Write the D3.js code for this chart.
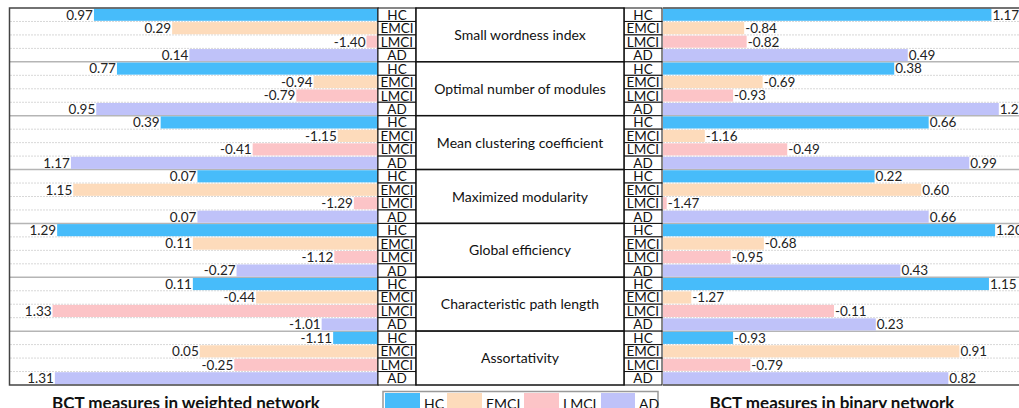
<!DOCTYPE html>
<html><head><meta charset="utf-8">
<script src="https://cdn.jsdelivr.net/npm/d3@7"></script>
<style>body{margin:0;background:#fff}svg{display:block;font-family:Lato,"Open Sans",sans-serif}</style>
</head><body><svg id="c" width="1019" height="408"></svg>
<script>
const measures = ["Small wordness index","Optimal number of modules","Mean clustering coefficient","Maximized modularity","Global efficiency","Characteristic path length","Assortativity"];
const groups = ["HC","EMCI","LMCI","AD"];
const colors = ["#47bcfa","#fddbbb","#fcc4c7","#bfc2f9"];
// weighted network values (per measure: HC, EMCI, LMCI, AD)
const weightedHC   = [0.97, 0.77, 0.39, 0.07, 1.29, 0.11, -1.11];
const weightedEMCI = [0.29, -0.94, -1.15, 1.15, 0.11, -0.44, 0.05];
const weightedLMCI = [-1.40, -0.79, -0.41, -1.29, -1.12, 1.33, -0.25];
const weightedAD   = [0.14, 0.95, 1.17, 0.07, -0.27, -1.01, 1.31];
// binary network values
const binaryHC   = [1.17, 0.38, 0.66, 0.22, 1.20, 1.15, -0.93];
const binaryEMCI = [-0.84, -0.69, -1.16, 0.60, -0.68, -1.27, 0.91];
const binaryLMCI = [-0.82, -0.93, -0.49, -1.47, -0.95, -0.11, -0.79];
const binaryAD   = [0.49, 1.23, 0.99, 0.66, 0.43, 0.23, 0.82];
const titles = ["BCT measures in weighted network","BCT measures in binary network"];

const weighted = [weightedHC, weightedEMCI, weightedLMCI, weightedAD];
const binary = [binaryHC, binaryEMCI, binaryLMCI, binaryAD];
const rows = [];
measures.forEach((m, mi) => groups.forEach((g, gi) => rows.push({id: mi*4+gi, m: mi, g: gi, w: weighted[gi][mi], b: binary[gi][mi]})));

const svg = d3.select("#c");
const yTop = 8, yBottom = 385;
const yRow = d3.scaleBand().domain(rows.map(d => d.id)).range([yTop, yBottom]).paddingInner(0).paddingOuter(0);
const yBar = d3.scaleBand().domain(rows.map(d => d.id)).range([yTop, yBottom]).paddingInner(0.1).paddingOuter(0.05);
const xL = d3.scaleLinear().domain([-1.5, 1.7]).range([378, 10]);
const xR = d3.scaleLinear().domain([-1.5, 1.5]).range([663, 1032]);
const rh = yRow.bandwidth();

// dotted row lines
const inner = rows.filter(d => d.g > 0);
svg.append("g").selectAll("line").data(inner).join("line")
  .attr("x1", 10).attr("x2", 378).attr("y1", d => yRow(d.id)).attr("y2", d => yRow(d.id))
  .attr("stroke", "#d8d8d8").attr("stroke-dasharray", "2,1");
svg.append("g").selectAll("line").data(inner).join("line")
  .attr("x1", 663).attr("x2", 1019).attr("y1", d => yRow(d.id)).attr("y2", d => yRow(d.id))
  .attr("stroke", "#d8d8d8").attr("stroke-dasharray", "2,1");
// group lines
const gStarts = rows.filter(d => d.g === 0 && d.m > 0);
svg.append("g").selectAll("line").data(gStarts).join("line")
  .attr("x1", 10).attr("x2", 378).attr("y1", d => yRow(d.id)).attr("y2", d => yRow(d.id))
  .attr("stroke", "#b5b5b5").attr("stroke-width", 1.5);
svg.append("g").selectAll("line").data(gStarts).join("line")
  .attr("x1", 663).attr("x2", 1019).attr("y1", d => yRow(d.id)).attr("y2", d => yRow(d.id))
  .attr("stroke", "#b5b5b5").attr("stroke-width", 1.5);

// left bars
svg.append("g").selectAll("rect").data(rows).join("rect")
  .attr("x", d => xL(d.w)).attr("width", d => xL(-1.5) - xL(d.w))
  .attr("y", d => yBar(d.id)).attr("height", yBar.bandwidth())
  .attr("fill", d => colors[d.g]);
svg.append("g").selectAll("text").data(rows).join("text")
  .attr("x", d => xL(d.w) - 1).attr("y", d => yBar(d.id) + yBar.bandwidth()/2)
  .attr("dy", "0.36em").attr("text-anchor", "end").attr("font-size", 13.5).attr("fill", "#222")
  .text(d => d3.format(".2f")(d.w).replace("−", "-"));
// right bars
svg.append("g").selectAll("rect").data(rows).join("rect")
  .attr("x", xR(-1.5)).attr("width", d => xR(d.b) - xR(-1.5))
  .attr("y", d => yBar(d.id)).attr("height", yBar.bandwidth())
  .attr("fill", d => colors[d.g]);
svg.append("g").selectAll("text").data(rows).join("text")
  .attr("x", d => xR(d.b) + 1).attr("y", d => yBar(d.id) + yBar.bandwidth()/2)
  .attr("dy", "0.36em").attr("text-anchor", "start").attr("font-size", 13.5).attr("fill", "#222")
  .text(d => d3.format(".2f")(d.b).replace("−", "-"));

// frames
svg.append("rect").attr("x", 9.5).attr("y", yTop).attr("width", 368.5).attr("height", yBottom - yTop)
  .attr("fill", "none").attr("stroke", "#444").attr("stroke-width", 1.5);
svg.append("line").attr("x1", 663).attr("x2", 1019).attr("y1", yTop).attr("y2", yTop).attr("stroke", "#444").attr("stroke-width", 1.5);
svg.append("line").attr("x1", 663).attr("x2", 1019).attr("y1", yBottom).attr("y2", yBottom).attr("stroke", "#444").attr("stroke-width", 1.5);

// label cells
[[378, 416], [624, 662]].forEach(([x0, x1]) => {
  const g = svg.append("g");
  g.selectAll("rect").data(rows).join("rect")
    .attr("x", x0).attr("width", x1 - x0).attr("y", d => yRow(d.id)).attr("height", rh)
    .attr("fill", "#fff").attr("stroke", "#111").attr("stroke-width", 1);
  g.selectAll("text").data(rows).join("text")
    .attr("x", (x0 + x1) / 2).attr("y", d => yRow(d.id) + rh/2).attr("dy", "0.37em")
    .attr("text-anchor", "middle").attr("font-size", 13.5).attr("fill", "#111")
    .text(d => groups[d.g]);
});
// middle measure boxes
const mg = svg.append("g");
mg.selectAll("rect").data(measures).join("rect")
  .attr("x", 416).attr("width", 208).attr("y", (d, i) => yRow(i*4)).attr("height", rh*4)
  .attr("fill", "#fff").attr("stroke", "#111").attr("stroke-width", 1.5);
mg.selectAll("text").data(measures).join("text")
  .attr("x", 520).attr("y", (d, i) => yRow(i*4) + rh*2).attr("dy", "0.36em")
  .attr("text-anchor", "middle").attr("font-size", 14).attr("fill", "#111").text(d => d);

// titles
svg.append("text").attr("x", 186).attr("y", 409).attr("text-anchor", "middle")
  .attr("font-size", 17).attr("font-weight", "bold").attr("fill", "#111").text(titles[0]);
svg.append("text").attr("x", 832).attr("y", 409).attr("text-anchor", "middle")
  .attr("font-size", 17).attr("font-weight", "bold").attr("fill", "#111").text(titles[1]);

// legend
const lg = svg.append("g");
lg.append("rect").attr("x", 383).attr("y", 391.5).attr("width", 275).attr("height", 30)
  .attr("fill", "#fff").attr("stroke", "#999").attr("stroke-width", 1.5);
const lx = [385, 447, 524, 601];
groups.forEach((g, i) => {
  lg.append("rect").attr("x", lx[i]).attr("y", 393).attr("width", i === 3 ? 34 : 35).attr("height", 20).attr("fill", colors[i]);
  lg.append("text").attr("x", lx[i] + (i === 3 ? 38 : 39)).attr("y", 408.5).attr("font-size", 14).attr("fill", "#111").text(g);
});
</script></body></html>
